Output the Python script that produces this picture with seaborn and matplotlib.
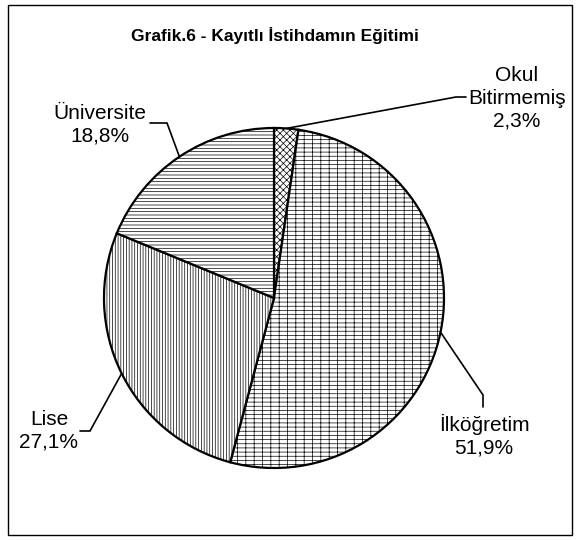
import matplotlib
matplotlib.use("Agg")
import numpy as np
import seaborn as sns
from matplotlib import pyplot as plt
from matplotlib.patches import Rectangle

sns.set_theme(style="white")
plt.rcParams['font.family']     = ['Liberation Sans', 'DejaVu Sans']
plt.rcParams['hatch.linewidth'] = 0.5

# data, clockwise from 12 o'clock
categories = ['Okul\nBitirmemiş', 'İlköğretim', 'Lise', 'Üniversite']
shares     = [2.3, 51.9, 27.1, 18.8]
hatches    = ['xxxxx', '++--', '||||||', '-----']

W, H = 581, 540

# layout in pixels (y measured from top)
label_xy = [(517, 98), (484, 436), (49, 431), (100, 125)]
elbows   = [(456, 97), (483, 395), (90, 431), (167, 123)]
ends     = [(466, 97), (483, 407), (80, 431), (150, 123)]

fig = plt.figure(figsize=(W/100, H/100), dpi=100)
ax  = fig.add_axes([0, 0, 1, 1])

cx, cy, r = 274, H - 298, 170
wedges, _ = ax.pie(shares, startangle=90, counterclock=False,
                   center=(cx, cy), radius=r,
                   wedgeprops=dict(edgecolor='black', linewidth=1.6, facecolor='white'))
for w, h in zip(wedges, hatches):
    w.set_hatch(h)

ax.set_xlim(0, W)
ax.set_ylim(0, H)
ax.set_axis_off()

for w, cat, val, (tx, ty), (ex, ey), (nx, ny) in zip(wedges, categories, shares,
                                                     label_xy, elbows, ends):
    a  = np.deg2rad((w.theta1 + w.theta2) / 2)
    sx = cx + r*np.cos(a)
    sy = cy + r*np.sin(a)
    ax.plot([sx, ex, nx], [sy, H - ey, H - ny], color='black', lw=1.2,
            solid_joinstyle='miter', clip_on=False)
    txt = f"{cat}\n{val:.1f}%".replace('.', ',')
    ax.text(tx, H - ty, txt, ha='center', va='center', fontsize=15,
            linespacing=1.25, color='black')

fig.text(275/W, 1 - 35/H, 'Grafik.6 - Kayıtlı İstihdamın Eğitimi',
         ha='center', va='center', fontsize=12.5, weight='bold', color='black')

fig.patches.append(Rectangle((8/W, 5/H), 564/W, 530/H, transform=fig.transFigure,
                             fill=False, edgecolor='black', lw=1))

fig.savefig('out.png', dpi=100)
